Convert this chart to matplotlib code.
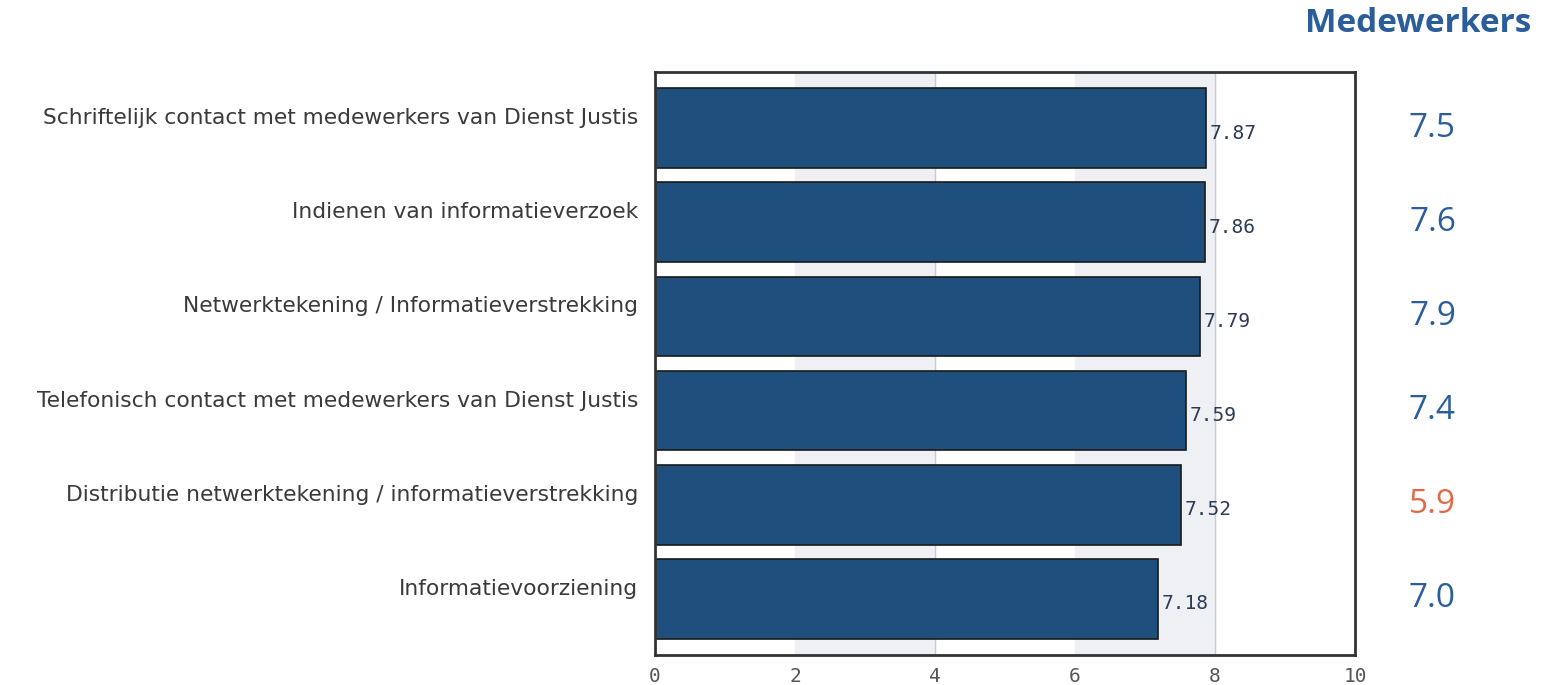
import matplotlib.pyplot as plt

categories = [
    "Schriftelijk contact met medewerkers van Dienst Justis",
    "Indienen van informatieverzoek",
    "Netwerktekening / Informatieverstrekking",
    "Telefonisch contact met medewerkers van Dienst Justis",
    "Distributie netwerktekening / informatieverstrekking",
    "Informatievoorziening",
]
scores = [7.87, 7.86, 7.79, 7.59, 7.52, 7.18]
staff_scores = [7.5, 7.6, 7.9, 7.4, 5.9, 7.0]
staff_title = "Medewerkers"

bar_color = "#1f4f7d"
blue_text = "#2a5d9a"
orange_text = "#e06a48"

fig = plt.figure(figsize=(15.57, 6.85), dpi=100)
ax = fig.add_axes([0.4207, 0.0438, 0.4496, 0.8511])

# light background bands
for lo in (2, 6):
    ax.axvspan(lo, lo + 2, color="#eef0f4", zorder=0)
for x in (4, 8):
    ax.axvline(x, color="#c8ccd2", lw=1, zorder=0.5)

y = list(range(len(categories)))
ax.barh(y, scores, height=0.85, color=bar_color, edgecolor="#1a1a1a", lw=1.2, zorder=2)

for yi, v in zip(y, scores):
    ax.text(v + 0.05, yi + 0.05, f"{v:.2f}", va="center", ha="left",
            fontsize=14, family="DejaVu Sans Mono", color="#2b3a55")

ax.set_xlim(0, 10)
ax.set_ylim(len(categories) - 0.4, -0.6)
ax.set_xticks([0, 2, 4, 6, 8, 10])
ax.tick_params(axis="x", length=0, labelsize=14, labelcolor="#555555", pad=9)
for lbl in ax.get_xticklabels():
    lbl.set_family("DejaVu Sans Mono")
ax.set_yticks(y)
ax.set_yticklabels(categories, fontsize=15.7, color="#3a3a3a")
ax.tick_params(axis="y", length=0, pad=12)
for lbl in ax.get_yticklabels():
    lbl.set_verticalalignment("bottom")
for s in ax.spines.values():
    s.set_color("#333333")
    s.set_linewidth(2)

# right-hand column with staff scores
fig.text(0.911, 0.966, staff_title, ha="center", va="center", fontsize=24,
         fontweight="bold", family="Open Sans", color=blue_text)
for yi, v in zip(y, staff_scores):
    yd = ax.transData.transform((0, yi))[1]
    yf = fig.transFigure.inverted().transform((0, yd))[1]
    ax_col = orange_text if v < 6 else blue_text
    fig.text(0.92, yf, f"{v:.1f}", ha="center", va="center", fontsize=24,
             family="Open Sans", color=ax_col)

fig.savefig("out.png", dpi=100)
